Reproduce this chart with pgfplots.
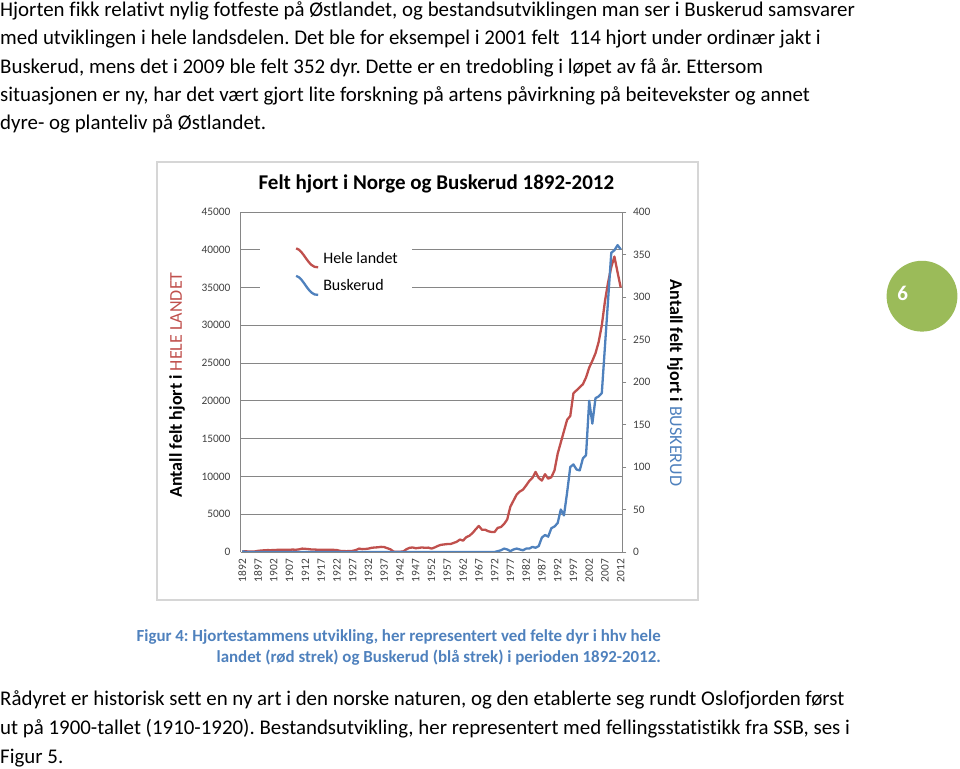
\documentclass[border=0pt]{standalone}
\usepackage{fontspec}
\setmainfont{Carlito}[Ligatures={NoCommon}]
\usepackage{pgfplots}
\usepackage{pgfplotstable}
\pgfplotsset{compat=1.18}
\definecolor{redL}{HTML}{C0504D}
\definecolor{blueL}{HTML}{4F81BD}
\definecolor{greenC}{HTML}{9BBB59}
\definecolor{gridc}{HTML}{868686}
\frenchspacing

\pgfplotstableread{
year val
1892 50
1893 100
1894 60
1895 50
1896 80
1897 150
1898 200
1899 220
1900 250
1901 240
1902 260
1903 280
1904 300
1905 300
1906 310
1907 300
1908 320
1909 300
1910 350
1911 450
1912 420
1913 380
1914 330
1915 320
1916 300
1917 300
1918 310
1919 300
1920 290
1921 280
1922 260
1923 150
1924 120
1925 110
1926 120
1927 150
1928 250
1929 450
1930 380
1931 400
1932 450
1933 550
1934 600
1935 620
1936 680
1937 650
1938 500
1939 350
1940 50
1941 30
1942 40
1943 60
1944 350
1945 550
1946 600
1947 500
1948 550
1949 600
1950 550
1951 580
1952 450
1953 600
1954 800
1955 950
1956 1000
1957 1050
1958 1050
1959 1200
1960 1350
1961 1650
1962 1500
1963 1950
1964 2150
1965 2500
1966 3000
1967 3450
1968 2950
1969 2950
1970 2750
1971 2650
1972 2650
1973 3200
1974 3300
1975 3700
1976 4300
1977 6000
1978 6800
1979 7600
1980 8000
1981 8250
1982 8800
1983 9400
1984 9800
1985 10600
1986 9800
1987 9450
1988 10300
1989 9700
1990 9900
1991 10800
1992 13000
1993 14500
1994 16000
1995 17500
1996 18000
1997 21000
1998 21400
1999 21800
2000 22200
2001 23100
2002 24400
2003 25300
2004 26300
2005 27800
2006 30000
2007 33200
2008 35700
2009 37700
2010 39100
2011 37000
2012 35000
}\hele

\pgfplotstableread{
year val
1892 1
1893 0
1894 0
1895 0
1896 0
1897 0
1898 0
1899 0
1900 0
1901 0
1902 0
1903 0
1904 0
1905 0
1906 0
1907 0
1908 0
1909 0
1910 0
1911 0
1912 0
1913 0
1914 0
1915 0
1916 0
1917 0
1918 0
1919 0
1920 0
1921 0
1922 0
1923 0
1924 0
1925 0
1926 0
1927 0
1928 0
1929 0
1930 0
1931 0
1932 0
1933 0
1934 0
1935 0
1936 0
1937 0
1938 0
1939 0
1940 0
1941 0
1942 0
1943 0
1944 0
1945 0
1946 0
1947 0
1948 0
1949 0
1950 0
1951 0
1952 0
1953 0
1954 0
1955 0
1956 0
1957 0
1958 0
1959 0
1960 0
1961 0
1962 0
1963 0
1964 0
1965 0
1966 0
1967 0
1968 0
1969 0
1970 0
1971 0
1972 0
1973 1
1974 2
1975 4
1976 3
1977 1
1978 3
1979 4
1980 3
1981 2
1982 4
1983 4
1984 6
1985 5
1986 7
1987 17
1988 20
1989 18
1990 28
1991 30
1992 34
1993 50
1994 43
1995 70
1996 100
1997 103
1998 97
1999 96
2000 110
2001 114
2002 178
2003 151
2004 181
2005 183
2006 187
2007 242
2008 297
2009 352
2010 355
2011 361
2012 356
}\busk

\begin{document}
\begin{tikzpicture}[x=1pt,y=1pt]
\useasboundingbox (0,0) rectangle (960,768);

% top paragraph
\begin{scope}[every node/.style={anchor=base west, inner sep=0pt, font=\fontsize{20.9}{24}\selectfont}]
\node at (0,768-16.7) {Hjorten fikk relativt nylig fotfeste på Østlandet, og bestandsutviklingen man ser i Buskerud samsvarer};
\node at (0,768-45) {med utviklingen i hele landsdelen. Det ble for eksempel i 2001 felt \ 114 hjort under ordinær jakt i};
\node at (0,768-73.3) {Buskerud, mens det i 2009 ble felt 352 dyr. Dette er en tredobling i løpet av få år. Ettersom};
\node at (0,768-101.7) {situasjonen er ny, har det vært gjort lite forskning på artens påvirkning på beitevekster og annet};
\node at (0,768-130) {dyre- og planteliv på Østlandet.};
\end{scope}

% chart frame
\draw[draw=black!16, line width=1.2pt] (157,768-162) rectangle (698,768-600);

% title and axis titles
\node[font=\bfseries\fontsize{21}{24}\selectfont] at (436.4,768-184) {Felt hjort i Norge og Buskerud 1892-2012};
\node[rotate=90, font=\fontsize{18}{20}\selectfont] at (177,768-385) {\textbf{Antall felt hjort i} \textcolor{redL}{HELE LANDET}};
\node[rotate=-90, font=\fontsize{18}{20}\selectfont] at (675,768-383) {\textbf{Antall felt hjort i} \textcolor{blueL}{BUSKERUD}};

\begin{axis}[
  scale only axis, width=381.6pt, height=340pt,
  at={(240.7pt,216pt)}, anchor=south west,
  xmin=1891.5, xmax=2012.5, ymin=0, ymax=45000,
  axis x line*=bottom, axis y line*=left,
  axis line style={draw=gridc, line width=0.9pt},
  ytick={0,5000,...,45000},
  xtick={1892,1897,...,2012},
  scaled y ticks=false,
  ymajorgrids, grid style={draw=gridc, line width=0.9pt},
  major tick length=0pt,
  /pgf/number format/1000 sep={},
  /pgf/number format/assume math mode=true,
  ticklabel style={font=\fontsize{11.4}{12}\selectfont, text=black!75, inner sep=0pt},
  xticklabel style={rotate=90, anchor=east},
  xticklabel shift=7pt,
  yticklabel shift=10pt,
  legend style={at={(0.05,0.905)}, anchor=north west, draw=none, fill=white,
    inner sep=0pt, row sep=0pt, column sep=4pt,
    font=\fontsize{16}{16}\selectfont,
    nodes={inner sep=0pt, minimum height=27.6pt}},
  legend cell align=left,
  legend image code/.code={\path (-35pt,0pt); \draw[#1] (0pt,10pt) .. controls (8pt,8pt) and (12pt,-10pt) .. (22pt,-9pt);},
]
\addplot[redL, line width=2.3pt, line join=round, no markers] table[x=year, y=val] {\hele};
\addlegendentry{\makebox[89pt][l]{Hele landet}}
\addlegendimage{blueL, line width=2.3pt, line join=round, no markers}
\addlegendentry{\makebox[89pt][l]{Buskerud}}
\end{axis}

\begin{axis}[
  scale only axis, width=381.6pt, height=340pt,
  at={(240.7pt,216pt)}, anchor=south west,
  xmin=1891.5, xmax=2012.5, ymin=0, ymax=400,
  axis y line*=right, axis x line=none,
  axis line style={draw=gridc, line width=0.9pt},
  ytick={0,50,...,400},
  ytick style={draw=gridc, line width=0.9pt},
  tick align=outside, major tick length=4pt,
  /pgf/number format/assume math mode=true,
  yticklabel style={font=\fontsize{11.4}{12}\selectfont, text=black!75, inner sep=0pt, anchor=west},
  yticklabel shift=6.6pt,
]
\addplot[blueL, line width=2.3pt, line join=round, no markers] table[x=year, y=val] {\busk};
\end{axis}

% caption
\begin{scope}[every node/.style={anchor=base east, inner sep=0pt, text=blueL, font=\bfseries\fontsize{16.9}{20}\selectfont}]
\node at (661,768-641) {Figur 4: Hjortestammens utvikling, her representert ved felte dyr i hhv hele};
\node at (661,768-662) {landet (rød strek) og Buskerud (blå strek) i perioden 1892-2012.};
\end{scope}

% page number circle
\fill[greenC] (922,768-296.2) circle (35.4);
\node[text=white, font=\bfseries\fontsize{21}{24}\selectfont] at (902.7,768-293.3) {6};

% bottom paragraph
\begin{scope}[every node/.style={anchor=base west, inner sep=0pt, font=\fontsize{20.9}{24}\selectfont}]
\node at (0,768-705) {Rådyret er historisk sett en ny art i den norske naturen, og den etablerte seg rundt Oslofjorden først};
\node at (0,768-734) {ut på 1900-tallet (1910-1920). Bestandsutvikling, her representert med fellingsstatistikk fra SSB, ses i};
\node at (0,768-763) {Figur 5.};
\end{scope}
\end{tikzpicture}
\end{document}
